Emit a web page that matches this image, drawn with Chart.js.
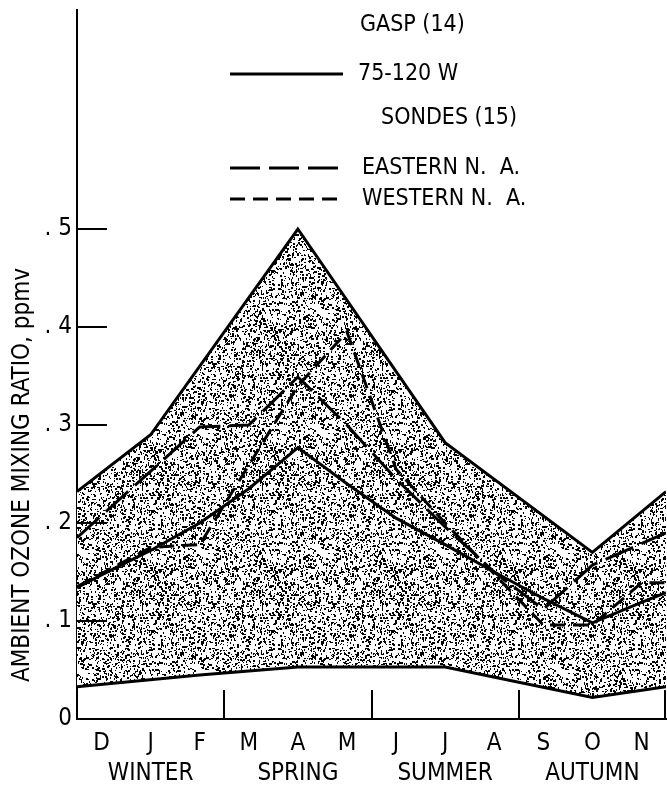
<!DOCTYPE html>
<html>
<head>
<meta charset="utf-8">
<script src="https://cdn.jsdelivr.net/npm/chart.js@4.4.1/dist/chart.umd.min.js"></script>
<style>
  html, body { margin: 0; padding: 0; background: #fff; }
  canvas { display: block; }
</style>
</head>
<body>
<canvas id="ozoneChart" width="667" height="791"></canvas>
<script>
// Axis labels
const months = ['D', 'J', 'F', 'M', 'A', 'M', 'J', 'J', 'A', 'S', 'O', 'N'];
const monthPos = [0.5, 1.5, 2.5, 3.5, 4.5, 5.5, 6.5, 7.5, 8.5, 9.5, 10.5, 11.5];
const seasons = ['WINTER', 'SPRING', 'SUMMER', 'AUTUMN'];
const seasonBreaks = [3, 6, 9, 12];
const yTicks = [0, 0.1, 0.2, 0.3, 0.4, 0.5];

// Shaded band (upper and lower envelope), x in months from start of December
const upperX = [0, 1.5, 4.5, 7.5, 10.5, 12];
const upperY = [0.232, 0.290, 0.500, 0.282, 0.170, 0.232];
const lowerX = [0, 2.5, 4.5, 7.5, 10.5, 12];
const lowerY = [0.033, 0.045, 0.053, 0.053, 0.022, 0.033];

// GASP (14), 75-120 W
const gaspX = [0, 0.5, 1.5, 2.5, 3.5, 4.5, 5.5, 6.5, 7.5, 8.5, 9.5, 10.5, 11.5, 12];
const gaspY = [0.134, 0.147, 0.172, 0.200, 0.235, 0.277, 0.240, 0.205, 0.178, 0.150, 0.123, 0.098, 0.119, 0.129];

// Sondes (15)
const eastX = [0, 2.5, 3.5, 4.5, 5.5, 6.5, 7.5, 8.5, 9.5, 10.5, 12];
const eastY = [0.185, 0.298, 0.300, 0.349, 0.300, 0.245, 0.196, 0.150, 0.112, 0.157, 0.190];
const westX = [0, 1.5, 2.5, 4.5, 5.5, 6.5, 7.5, 8.5, 9.5, 10.5, 11.5, 12];
const westY = [0.135, 0.175, 0.178, 0.340, 0.395, 0.255, 0.200, 0.148, 0.096, 0.096, 0.139, 0.139];

const FONT = "'Liberation Sans Narrow', 'Arial Narrow', 'DejaVu Sans Condensed', sans-serif";

function toPoints(xs, ys) {
    return xs.map((x, i) => ({ x: x, y: ys[i] }));
}

// stippled texture for the band
function makeStipple() {
    const c = document.createElement('canvas');
    c.width = 120;
    c.height = 120;
    const g = c.getContext('2d');
    g.fillStyle = '#fff';
    g.fillRect(0, 0, c.width, c.height);
    g.fillStyle = '#000';
    let seed = 12345;
    const rnd = () => {
        seed = (seed * 1103515245 + 12345) % 2147483648;
        return seed / 2147483648;
    };
    for (let i = 0; i < 2200; i++) {
        const x = Math.floor(rnd() * c.width);
        const y = Math.floor(rnd() * c.height);
        const w = rnd() < 0.6 ? 1 : 2;
        const h = rnd() < 0.4 ? 1 : 2;
        g.fillRect(x, y, w, h);
    }
    return g.createPattern(c, 'repeat');
}

const decorPlugin = {
    id: 'decor',
    afterDatasetsDraw(chart) {
        const { ctx, chartArea, scales } = chart;
        ctx.save();
        ctx.strokeStyle = '#000';
        ctx.lineWidth = 2;
        // inward tick marks on the y axis
        yTicks.forEach(v => {
            if (v === 0) return;
            const y = Math.round(scales.y.getPixelForValue(v));
            ctx.beginPath();
            ctx.moveTo(chartArea.left, y);
            ctx.lineTo(chartArea.left + 30, y);
            ctx.stroke();
        });
        // season dividers
        seasonBreaks.forEach(b => {
            const x = Math.round(scales.x.getPixelForValue(b)) - (b === 12 ? 1 : 0);
            ctx.beginPath();
            ctx.moveTo(x, chartArea.bottom - 29);
            ctx.lineTo(x, chartArea.bottom);
            ctx.stroke();
        });
        ctx.restore();
    },
    afterDraw(chart) {
        const ctx = chart.ctx;
        ctx.save();
        ctx.fillStyle = '#000';
        ctx.strokeStyle = '#000';

        // y axis title
        ctx.save();
        ctx.translate(23, 475);
        ctx.rotate(-Math.PI / 2);
        ctx.font = '24px ' + FONT;
        ctx.textAlign = 'center';
        ctx.textBaseline = 'middle';
        ctx.fillText('AMBIENT OZONE MIXING RATIO, ppmv', 0, 0);
        ctx.restore();

        // legend
        ctx.font = '23px ' + FONT;
        ctx.textAlign = 'left';
        ctx.textBaseline = 'middle';
        ctx.fillText('GASP (14)', 360, 25);
        ctx.fillText('75-120 W', 358, 74);
        ctx.fillText('SONDES (15)', 381, 118);
        ctx.fillText('EASTERN N.  A.', 362, 168);
        ctx.fillText('WESTERN N.  A.', 362, 199);

        ctx.lineWidth = 3;
        [[74, []], [168, [30, 9]], [199, [15, 8]]].forEach(([y, dash]) => {
            ctx.setLineDash(dash);
            ctx.beginPath();
            ctx.moveTo(230, y);
            ctx.lineTo(343, y);
            ctx.stroke();
        });
        ctx.restore();
    }
};

const lineStyle = {
    borderColor: '#000',
    borderWidth: 3,
    pointRadius: 0,
    tension: 0,
    fill: false
};

const ctx = document.getElementById('ozoneChart');
new Chart(ctx, {
    type: 'line',
    data: {
        datasets: [
            { ...lineStyle, label: 'upper', data: toPoints(upperX, upperY), fill: { target: 1 }, backgroundColor: makeStipple() },
            { ...lineStyle, label: 'lower', data: toPoints(lowerX, lowerY) },
            { ...lineStyle, label: '75-120 W', data: toPoints(gaspX, gaspY) },
            { ...lineStyle, label: 'EASTERN N. A.', data: toPoints(eastX, eastY), borderDash: [30, 9] },
            { ...lineStyle, label: 'WESTERN N. A.', data: toPoints(westX, westY), borderDash: [15, 8] }
        ]
    },
    options: {
        responsive: false,
        animation: false,
        layout: { padding: { top: 10, right: 1, left: 0, bottom: 0 } },
        elements: { line: { borderJoinStyle: 'miter', borderCapStyle: 'butt' } },
        plugins: {
            legend: { display: false },
            tooltip: { enabled: false },
            filler: { drawTime: 'beforeDatasetsDraw' }
        },
        scales: {
            x: {
                type: 'linear',
                min: 0,
                max: 12,
                afterBuildTicks: scale => { scale.ticks = monthPos.map(v => ({ value: v })); },
                afterFit: scale => {
                    scale.height = 72;
                    scale.paddingLeft = 0;
                    scale.paddingRight = 0;
                },
                grid: { display: false, drawTicks: false },
                border: { display: true, color: '#000', width: 2 },
                ticks: {
                    autoSkip: false,
                    maxRotation: 0,
                    padding: 10,
                    color: '#000',
                    font: { family: FONT, size: 24, lineHeight: 1.25 },
                    callback: (value, index) => {
                        const season = (index % 3 === 1) ? seasons[(index - 1) / 3] : '';
                        return [months[index], season];
                    }
                }
            },
            y: {
                min: 0,
                max: 0.7235,
                afterBuildTicks: scale => { scale.ticks = yTicks.map(v => ({ value: v })); },
                afterFit: scale => {
                    scale.width = 77;
                    scale.paddingTop = 0;
                    scale.paddingBottom = 0;
                },
                grid: { display: false, drawTicks: false },
                border: { display: true, color: '#000', width: 2 },
                ticks: {
                    padding: 5,
                    color: '#000',
                    font: { family: FONT, size: 24 },
                    callback: value => value === 0 ? '0' : '. ' + Math.round(value * 10)
                }
            }
        }
    },
    plugins: [decorPlugin]
});
</script>
</body>
</html>
